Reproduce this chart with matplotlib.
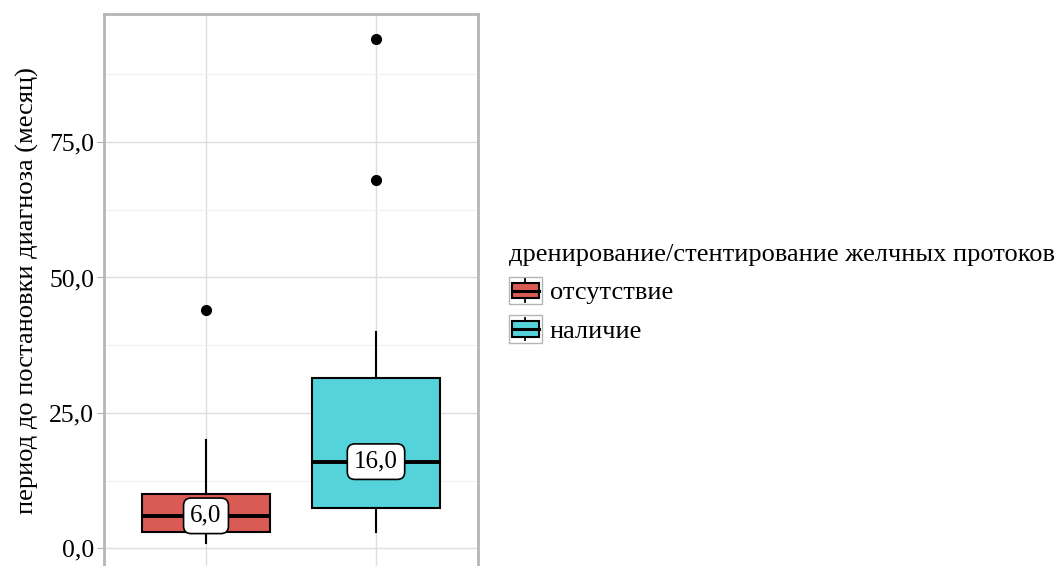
import matplotlib
matplotlib.use("Agg")
import matplotlib.pyplot as plt
from matplotlib.patches import Rectangle, Patch
from matplotlib.lines import Line2D
from matplotlib.legend_handler import HandlerBase
from matplotlib.ticker import FixedLocator, FuncFormatter

plt.rcParams['font.family'] = ['Liberation Serif', 'DejaVu Serif']

groups = ["отсутствие", "наличие"]
colors = ["#DA5B53", "#55D3DB"]
whisker_low = [1, 3]
q1 = [3, 7.4]
medians = [6, 16]
q3 = [10, 31.4]
whisker_high = [20, 40]
outliers = [[44], [68, 94]]

legend_title = "дренирование/стентирование желчных протоков"
y_label = "период до постановки диагноза (месяц)"


def fmt_comma(v, pos=None):
    return f"{v:.1f}".replace(".", ",")


class BoxKeyHandler(HandlerBase):
    # draws a small boxplot glyph inside a grey-bordered key
    def create_artists(self, legend, orig_handle, xdescent, ydescent,
                       width, height, fontsize, trans):
        x0, y0 = -xdescent, -ydescent
        bg = Rectangle((x0, y0), width, height, facecolor="white",
                       edgecolor="#B5B5B5", lw=1.0, transform=trans)
        cx = x0 + width / 2
        whisk = Line2D([cx, cx], [y0 + 0.1 * height, y0 + 0.9 * height],
                       color="black", lw=1.3, transform=trans)
        box = Rectangle((x0 + 0.08 * width, y0 + 0.22 * height),
                        0.84 * width, 0.56 * height,
                        facecolor=orig_handle.get_facecolor(),
                        edgecolor="black", lw=1.5, transform=trans)
        med = Line2D([x0 + 0.08 * width, x0 + 0.92 * width],
                     [y0 + 0.5 * height, y0 + 0.5 * height],
                     color="black", lw=2.2, transform=trans)
        return [bg, whisk, box, med]


fig = plt.figure(figsize=(10.62, 5.66), dpi=100)
ax = fig.add_axes([104 / 1062, -0.0037, 374 / 1062, 0.979])

stats = []
for i in range(len(groups)):
    stats.append(dict(med=medians[i], q1=q1[i], q3=q3[i],
                      whislo=whisker_low[i], whishi=whisker_high[i],
                      fliers=outliers[i]))

bp = ax.bxp(stats, positions=[1, 2], widths=0.75, patch_artist=True,
            showcaps=False,
            boxprops=dict(edgecolor="black", linewidth=1.5),
            medianprops=dict(color="black", linewidth=2.8),
            whiskerprops=dict(color="black", linewidth=1.5),
            flierprops=dict(marker="o", markerfacecolor="black",
                            markeredgecolor="black", markersize=7))
for patch, c in zip(bp["boxes"], colors):
    patch.set_facecolor(c)

for i, m in enumerate(medians):
    ax.text(i + 1, m, fmt_comma(m), ha="center", va="center", fontsize=18,
            zorder=5,
            bbox=dict(boxstyle="round,pad=0.27,rounding_size=0.3",
                      facecolor="white", edgecolor="black", lw=1.2))

ax.set_xlim(0.4, 2.6)
ax.set_ylim(-3.65, 98.65)
ax.yaxis.set_major_locator(FixedLocator([0, 25, 50, 75]))
ax.yaxis.set_minor_locator(FixedLocator([12.5, 37.5, 62.5, 87.5]))
ax.yaxis.set_major_formatter(FuncFormatter(fmt_comma))
ax.set_xticks([1, 2])
ax.set_xticklabels([])
ax.tick_params(axis="y", which="major", labelsize=18.5, length=5,
               color="#B5B5B5", pad=2)
ax.tick_params(axis="y", which="minor", length=0)
ax.tick_params(axis="x", length=0)

ax.grid(True, which="major", color="#DEDEDE", lw=1.0)
ax.grid(True, which="minor", axis="y", color="#F0F0F0", lw=0.8)
ax.set_axisbelow(True)
for s in ax.spines.values():
    s.set_color("#B5B5B5")
    s.set_linewidth(2.0)

ax.set_ylabel(y_label, fontsize=19)
ax.yaxis.set_label_coords(-0.175, 0.5)

handles = [Patch(facecolor=c, label=g) for c, g in zip(colors, groups)]
leg = fig.legend(handles=handles, loc="upper left",
                 bbox_to_anchor=(509 / 1062, 1 - 244 / 566),
                 title=legend_title, frameon=False, fontsize=19,
                 title_fontsize=19, handler_map={Patch: BoxKeyHandler()},
                 handlelength=1.25, handleheight=1.25, handletextpad=0.3,
                 labelspacing=0.4, borderpad=0, borderaxespad=0,
                 alignment="left")

fig.savefig("out.png", dpi=100)
